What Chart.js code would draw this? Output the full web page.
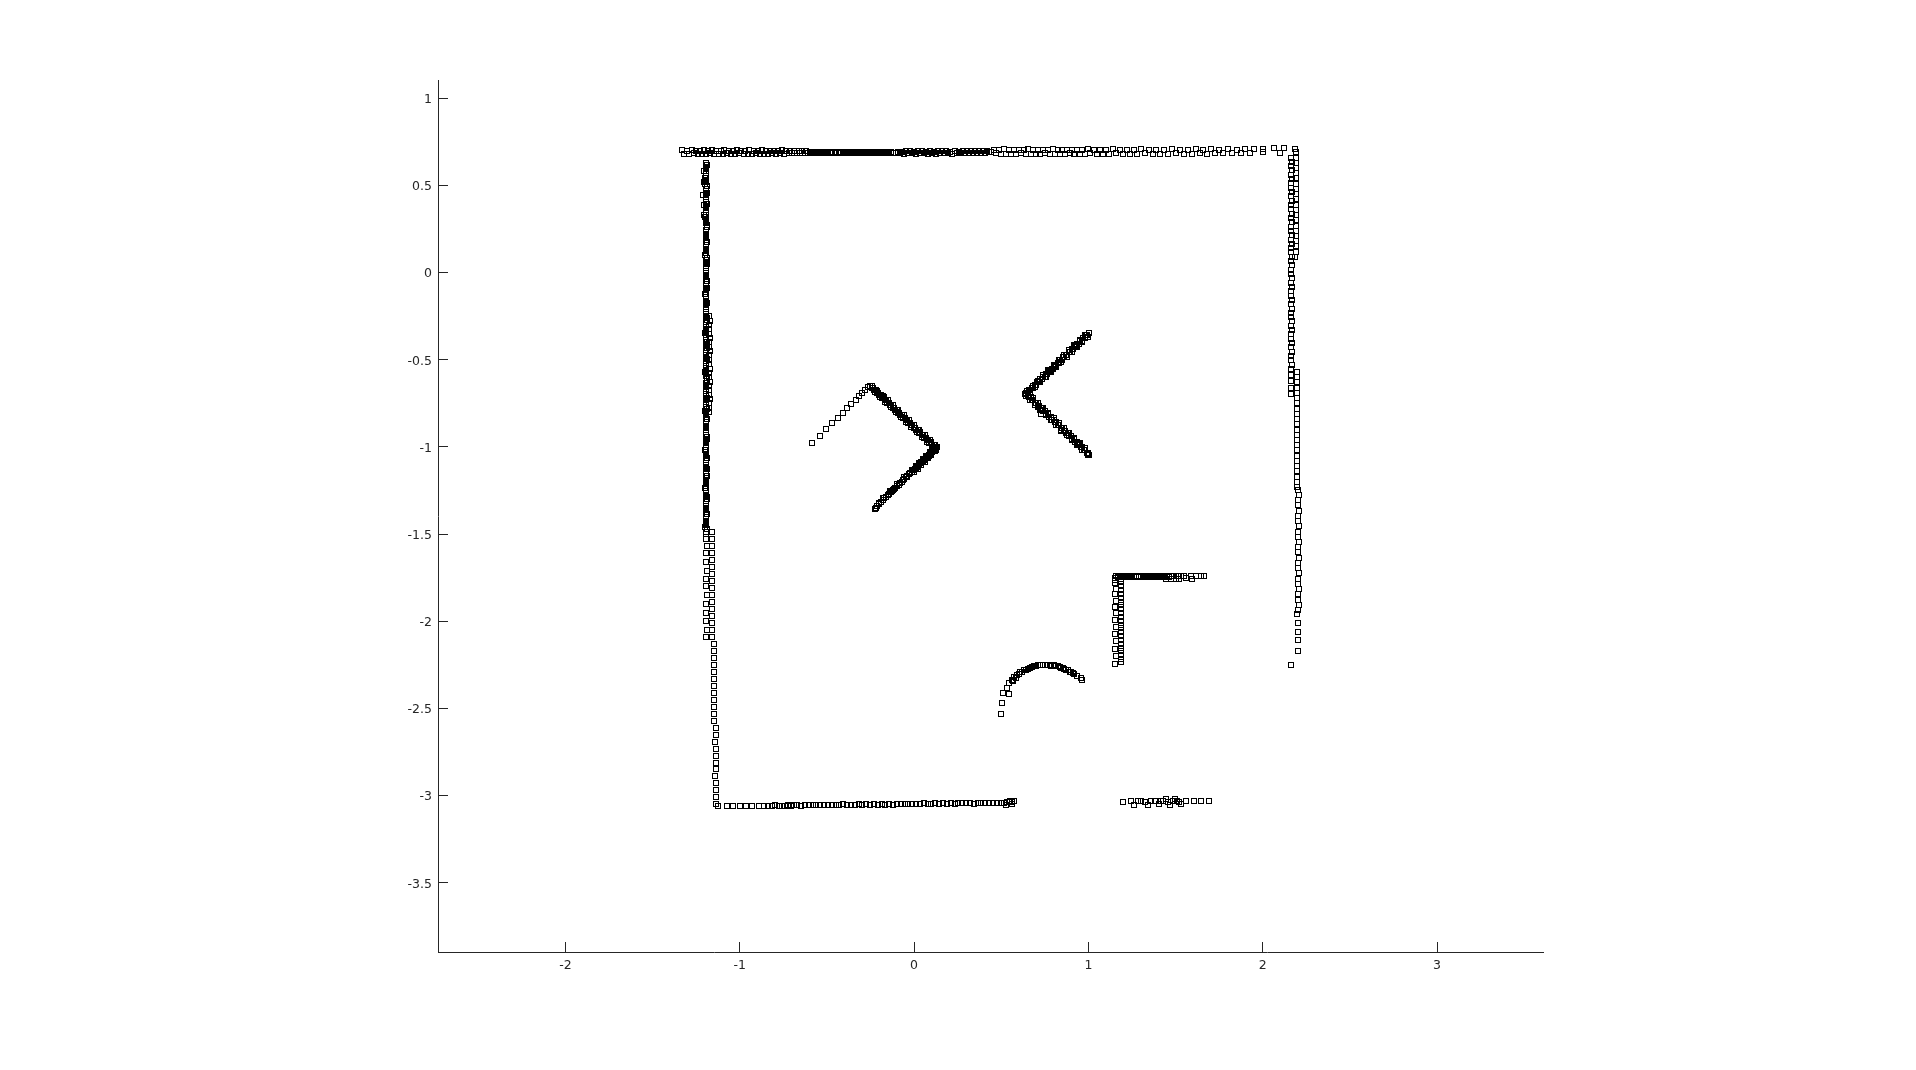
<!DOCTYPE html>
<html>
<head>
<meta charset="utf-8">
<script src="https://cdn.jsdelivr.net/npm/chart.js@4.4.1/dist/chart.umd.min.js"></script>
<style>
html,body{margin:0;padding:0;background:#fff;}
#wrap{width:1916px;height:1070px;}
</style>
</head>
<body>
<div id="wrap"><canvas id="c" width="1916" height="1070"></canvas></div>
<script>
// ---- tick labels ----
const xTicks = [-2, -1, 0, 1, 2, 3];
const yTicks = [1, 0.5, 0, -0.5, -1, -1.5, -2, -2.5, -3, -3.5];
const xRange = [-2.731, 3.608];
const yRange = [-3.897, 1.105];

// ---- scan points (x, y) ----
const topWallLeft = [
[-1.330,0.701],[-1.300,0.699],[-1.275,0.702],[-1.250,0.700],[-1.228,0.698],[-1.205,0.701],[-1.180,0.700],[-1.158,0.702],[-1.135,0.699],[-1.110,0.700],[-1.088,0.701],[-1.062,0.698],[-1.040,0.700],[-1.015,0.702],[-0.992,0.699],[-0.968,0.700],[-0.945,0.701],[-0.920,0.699],[-0.898,0.700],[-0.872,0.702],[-0.850,0.699],[-0.826,0.700],[-0.802,0.698],[-0.780,0.700],[-0.756,0.701],[-0.733,0.699],[-0.710,0.700],[-0.686,0.698],[-0.662,0.699],[-0.640,0.697],[-0.618,0.696],
[-1.318,0.682],[-1.290,0.680],[-1.262,0.684],[-1.240,0.679],[-1.215,0.683],[-1.192,0.681],[-1.168,0.685],[-1.145,0.680],[-1.120,0.683],[-1.096,0.681],[-1.072,0.684],[-1.050,0.679],[-1.025,0.682],[-1.002,0.685],[-0.978,0.681],[-0.955,0.683],[-0.932,0.680],[-0.908,0.684],[-0.885,0.682],[-0.860,0.683],[-0.838,0.681],[-0.814,0.684],[-0.790,0.682],[-0.768,0.685],[-0.744,0.683],[-0.720,0.684],[-0.698,0.686],[-0.674,0.685],[-0.652,0.687],[-0.628,0.688],[-0.606,0.689]
];
const topWallMid = [
[-0.596,0.690],[-0.584,0.686],[-0.573,0.692],[-0.561,0.688],[-0.550,0.684],[-0.538,0.691],[-0.526,0.687],[-0.515,0.693],[-0.503,0.689],[-0.491,0.685],[-0.480,0.690],[-0.468,0.688],[-0.456,0.692],[-0.445,0.686],[-0.433,0.689],[-0.421,0.691],[-0.410,0.687],[-0.398,0.690],[-0.386,0.685],[-0.375,0.689],[-0.363,0.692],[-0.351,0.688],[-0.340,0.690],[-0.328,0.686],[-0.316,0.689],[-0.305,0.691],[-0.293,0.687],[-0.281,0.690],[-0.270,0.688],[-0.258,0.692],[-0.246,0.689],[-0.235,0.686],[-0.223,0.690],[-0.211,0.688],[-0.200,0.691],[-0.188,0.687],[-0.176,0.690],[-0.165,0.689],[-0.153,0.692],[-0.141,0.688],[-0.130,0.690],[-0.118,0.686],[-0.106,0.689],[-0.095,0.691],[-0.083,0.684],[-0.071,0.694],[-0.060,0.683],[-0.048,0.695],[-0.036,0.686],[-0.025,0.696],[-0.013,0.684],[-0.001,0.693],[0.010,0.682],[0.022,0.695],[0.034,0.686],[0.045,0.697],[0.057,0.684],[0.069,0.693],[0.080,0.682],[0.092,0.696],[0.104,0.686],[0.115,0.694],[0.127,0.683],[0.139,0.696],[0.150,0.685],[0.162,0.695],[0.174,0.684],[0.185,0.697],[0.197,0.686],[0.209,0.694],[0.220,0.683],[0.232,0.696],[0.244,0.686],[0.255,0.694],[0.267,0.684],[0.279,0.697],[0.290,0.687],[0.302,0.695],[0.314,0.685],[0.325,0.697],[0.337,0.688],[0.349,0.695],[0.360,0.686],[0.372,0.697],[0.384,0.688],[0.395,0.696],[0.407,0.687],[0.419,0.698],[0.430,0.690],[0.442,0.693]
];
const topWallRight = [
[0.460,0.706],[0.490,0.704],[0.515,0.707],[0.545,0.705],[0.575,0.703],[0.600,0.706],[0.630,0.704],[0.655,0.707],[0.685,0.705],[0.712,0.703],[0.740,0.706],[0.768,0.704],[0.795,0.707],[0.825,0.705],[0.850,0.703],[0.880,0.706],[0.908,0.704],[0.935,0.706],[0.965,0.705],[0.995,0.707],[1.030,0.704],[1.065,0.706],[1.100,0.705],[1.140,0.707],[1.180,0.704],[1.220,0.706],[1.260,0.705],[1.300,0.707],[1.345,0.705],[1.390,0.706],[1.435,0.704],[1.480,0.707],[1.525,0.705],[1.570,0.706],[1.615,0.708],[1.660,0.705],[1.705,0.707],[1.750,0.706],[1.800,0.708],[1.850,0.706],[1.900,0.709],[1.950,0.707],[2.000,0.712],[2.065,0.713],[2.120,0.713],[2.185,0.712],
[0.470,0.684],[0.500,0.681],[0.528,0.683],[0.556,0.680],[0.586,0.682],[0.612,0.684],[0.642,0.681],[0.670,0.683],[0.698,0.680],[0.725,0.682],[0.752,0.684],[0.780,0.681],[0.808,0.683],[0.838,0.680],[0.865,0.682],[0.892,0.684],[0.920,0.681],[0.950,0.683],[0.980,0.682],[1.012,0.684],[1.048,0.681],[1.082,0.683],[1.120,0.682],[1.160,0.684],[1.200,0.681],[1.240,0.683],[1.280,0.682],[1.322,0.684],[1.368,0.682],[1.412,0.683],[1.458,0.681],[1.502,0.684],[1.548,0.682],[1.592,0.683],[1.638,0.685],[1.682,0.683],[1.728,0.684],[1.775,0.686],[1.825,0.684],[1.875,0.686],[1.925,0.685],[2.000,0.690],[2.100,0.688]
];
const leftWallUpper = [
[-1.193,0.630],[-1.196,0.606],[-1.191,0.581],[-1.195,0.556],[-1.192,0.531],[-1.197,0.507],[-1.193,0.482],[-1.190,0.457],[-1.195,0.432],[-1.192,0.408],[-1.196,0.383],[-1.191,0.358],[-1.194,0.333],[-1.192,0.309],[-1.195,0.284],[-1.190,0.259],[-1.193,0.234],[-1.196,0.210],[-1.191,0.185],[-1.194,0.160],[-1.192,0.135],[-1.195,0.111],[-1.190,0.086],[-1.193,0.061],[-1.196,0.036],[-1.191,0.012],[-1.194,-0.013],[-1.192,-0.038],[-1.195,-0.063],[-1.190,-0.087],[-1.193,-0.112],[-1.196,-0.137],[-1.191,-0.162],[-1.194,-0.186],[-1.192,-0.211],[-1.195,-0.236],[-1.190,-0.261],[-1.193,-0.285],[-1.196,-0.310],[-1.191,-0.335],[-1.194,-0.360],[-1.192,-0.384],[-1.195,-0.409],[-1.190,-0.434],[-1.193,-0.459],[-1.196,-0.483],[-1.191,-0.508],[-1.194,-0.533],[-1.192,-0.558],[-1.195,-0.582],[-1.190,-0.607],[-1.193,-0.632],[-1.196,-0.657],[-1.191,-0.681],[-1.194,-0.706],[-1.192,-0.731],[-1.195,-0.756],[-1.190,-0.780],[-1.193,-0.805],[-1.196,-0.830],[-1.191,-0.855],[-1.194,-0.879],[-1.192,-0.904],[-1.195,-0.929],[-1.190,-0.954],[-1.193,-0.978],[-1.196,-1.003],[-1.191,-1.028],[-1.194,-1.053],[-1.192,-1.077],[-1.195,-1.102],[-1.190,-1.127],[-1.193,-1.152],[-1.196,-1.176],[-1.191,-1.201],[-1.194,-1.226],[-1.192,-1.251],[-1.195,-1.275],[-1.190,-1.300],[-1.193,-1.325],[-1.196,-1.350],[-1.191,-1.374],[-1.194,-1.399],[-1.192,-1.424],[-1.195,-1.449],[-1.190,-1.473],[-1.193,-1.498],
[-1.207,0.585],[-1.205,0.520],[-1.208,0.445],[-1.204,0.390],[-1.206,0.330],
[-1.176,-0.250],[-1.173,-0.275],[-1.177,-0.300],[-1.174,-0.325],[-1.176,-0.350],[-1.172,-0.375],[-1.175,-0.400],[-1.177,-0.425],[-1.173,-0.450],[-1.176,-0.475],[-1.174,-0.500],[-1.177,-0.525],[-1.172,-0.550],[-1.175,-0.575],[-1.177,-0.600],[-1.173,-0.625],[-1.176,-0.650],[-1.174,-0.675],[-1.177,-0.700],[-1.172,-0.725],[-1.175,-0.750],[-1.177,-0.775],[-1.174,-0.800]
];
const leftWallInfill = [
[-1.189,0.618],[-1.194,0.594],[-1.191,0.569],[-1.197,0.544],[-1.192,0.519],[-1.189,0.495],[-1.195,0.470],[-1.192,0.445],[-1.196,0.420],[-1.190,0.396],[-1.194,0.371],[-1.191,0.346],[-1.197,0.321],[-1.193,0.297],[-1.189,0.272],[-1.195,0.247],[-1.192,0.222],[-1.196,0.198],[-1.190,0.173],[-1.194,0.148],[-1.191,0.123],[-1.197,0.099],[-1.193,0.074],[-1.189,0.049],[-1.195,0.024],[-1.192,0.000],[-1.196,-0.025],[-1.190,-0.050],[-1.194,-0.075],[-1.191,-0.100],[-1.197,-0.124],[-1.193,-0.149],[-1.189,-0.174],[-1.195,-0.199],[-1.192,-0.223],[-1.196,-0.248],[-1.190,-0.273],[-1.194,-0.298],[-1.191,-0.322],[-1.197,-0.347],[-1.193,-0.372],[-1.189,-0.397],[-1.195,-0.421],[-1.192,-0.446],[-1.196,-0.471],[-1.190,-0.496],[-1.194,-0.520],[-1.191,-0.545],[-1.197,-0.570],[-1.193,-0.595],[-1.189,-0.619],[-1.195,-0.644],[-1.192,-0.669],[-1.196,-0.694],[-1.190,-0.718],[-1.194,-0.743],[-1.191,-0.768],[-1.197,-0.793],[-1.193,-0.817],[-1.189,-0.842],[-1.195,-0.867],[-1.192,-0.892],[-1.196,-0.916],[-1.190,-0.941],[-1.194,-0.966],[-1.191,-0.991],[-1.197,-1.015],[-1.193,-1.040],[-1.189,-1.065],[-1.195,-1.090],[-1.192,-1.114],[-1.196,-1.139],[-1.190,-1.164],[-1.194,-1.189],[-1.191,-1.213],[-1.197,-1.238],[-1.193,-1.263],[-1.189,-1.288],[-1.195,-1.312],[-1.192,-1.337],[-1.196,-1.362],[-1.190,-1.387],[-1.194,-1.411],[-1.191,-1.436],[-1.197,-1.461],[-1.193,-1.486]
];
const leftWallLower = [
[-1.196,-1.530],[-1.190,-1.570],[-1.193,-1.610],[-1.195,-1.660],[-1.188,-1.710],[-1.192,-1.760],[-1.196,-1.800],[-1.190,-1.850],[-1.194,-1.900],[-1.192,-1.950],[-1.196,-2.000],[-1.190,-2.050],[-1.193,-2.090],
[-1.161,-1.490],[-1.158,-1.530],[-1.162,-1.570],[-1.159,-1.610],[-1.161,-1.650],[-1.158,-1.690],[-1.160,-1.730],[-1.162,-1.770],[-1.159,-1.810],[-1.161,-1.850],[-1.158,-1.890],[-1.160,-1.930],[-1.162,-1.970],[-1.159,-2.010],[-1.161,-2.050],[-1.158,-2.090],[-1.148,-2.130],[-1.150,-2.170],[-1.147,-2.210],[-1.149,-2.250],[-1.146,-2.290],[-1.148,-2.330],[-1.150,-2.370],[-1.147,-2.410],[-1.149,-2.450],[-1.146,-2.490],[-1.148,-2.530],[-1.150,-2.570],[-1.139,-2.610],[-1.137,-2.650],[-1.140,-2.690],[-1.138,-2.730],[-1.136,-2.770],[-1.139,-2.810],[-1.137,-2.850],[-1.140,-2.890],[-1.138,-2.930],[-1.136,-2.970],[-1.139,-3.010],[-1.135,-3.050]
];
const bottomWall = [
[-1.122,-3.062],[-1.075,-3.060],[-1.038,-3.061],[-0.998,-3.060],[-0.962,-3.059],[-0.928,-3.060],[-0.892,-3.058],[-0.862,-3.060],[-0.838,-3.057],[-0.815,-3.059],[-0.795,-3.056],[-0.776,-3.060],[-0.758,-3.057],[-0.740,-3.059],[-0.722,-3.056],[-0.705,-3.058],[-0.688,-3.055],
[-0.670,-3.055],[-0.648,-3.057],[-0.626,-3.053],[-0.604,-3.056],[-0.582,-3.052],[-0.560,-3.055],[-0.538,-3.051],[-0.516,-3.054],[-0.494,-3.052],[-0.472,-3.055],[-0.450,-3.051],[-0.428,-3.053],[-0.406,-3.050],[-0.384,-3.053],[-0.362,-3.051],[-0.340,-3.054],[-0.318,-3.050],[-0.296,-3.052],[-0.274,-3.049],[-0.252,-3.052],[-0.230,-3.050],[-0.208,-3.053],[-0.186,-3.049],[-0.164,-3.051],[-0.142,-3.048],[-0.120,-3.051],[-0.098,-3.049],[-0.076,-3.046],[-0.054,-3.049],[-0.032,-3.047],[-0.010,-3.050],[0.012,-3.046],[0.034,-3.048],[0.056,-3.045],[0.078,-3.048],[0.100,-3.046],[0.122,-3.044],[0.144,-3.047],[0.166,-3.044],[0.188,-3.046],[0.210,-3.043],[0.232,-3.046],[0.254,-3.044],[0.276,-3.042],[0.298,-3.045],[0.320,-3.043],[0.342,-3.046],[0.364,-3.042],[0.386,-3.044],[0.408,-3.041],[0.430,-3.044],[0.452,-3.042],[0.474,-3.045],[0.496,-3.041],[0.518,-3.040],[0.536,-3.037],[0.548,-3.033],[0.562,-3.036],[0.574,-3.032],[0.528,-3.052],[0.560,-3.050]
];
const bottomRight = [
[1.201,-3.036],[1.245,-3.033],[1.264,-3.052],[1.283,-3.033],[1.303,-3.031],[1.322,-3.034],[1.341,-3.052],[1.360,-3.033],[1.385,-3.031],[1.404,-3.050],[1.427,-3.033],[1.446,-3.020],[1.469,-3.051],[1.488,-3.033],[1.507,-3.031],[1.532,-3.050],[1.561,-3.033],[1.608,-3.033],[1.647,-3.033],[1.694,-3.032],[1.415,-3.030],[1.455,-3.034],[1.495,-3.021],[1.520,-3.034]
];
const rightWallUpper = [
[2.165,0.660],[2.167,0.636],[2.163,0.611],[2.166,0.586],[2.164,0.561],[2.167,0.537],[2.163,0.512],[2.165,0.487],[2.168,0.462],[2.164,0.438],[2.166,0.413],[2.163,0.388],[2.165,0.363],[2.167,0.339],[2.164,0.314],[2.166,0.289],[2.163,0.264],[2.165,0.240],[2.167,0.215],[2.164,0.190],[2.166,0.165],[2.163,0.141],[2.165,0.116],[2.167,0.091],[2.164,0.066],[2.166,0.042],[2.163,0.017],[2.165,-0.008],[2.167,-0.033],[2.164,-0.057],[2.166,-0.082],[2.163,-0.107],[2.165,-0.132],[2.167,-0.156],[2.164,-0.181],[2.166,-0.206],[2.163,-0.231],[2.165,-0.255],[2.167,-0.280],[2.164,-0.305],[2.166,-0.330],[2.163,-0.354],[2.165,-0.379],[2.167,-0.404],[2.164,-0.429],[2.166,-0.453],[2.163,-0.478],[2.165,-0.503],[2.167,-0.528],[2.164,-0.552],
[2.162,-0.585],[2.160,-0.620],[2.161,-0.660],[2.160,-0.695],
[2.190,0.690],[2.192,0.660],[2.189,0.630],[2.191,0.600],[2.193,0.570],[2.190,0.540],[2.192,0.510],[2.189,0.480],[2.191,0.450],[2.193,0.420],[2.190,0.390],[2.192,0.360],[2.189,0.330],[2.191,0.300],[2.193,0.270],[2.190,0.240],[2.192,0.210],[2.189,0.180],[2.191,0.150],[2.190,0.120],[2.188,0.090]
];
const rightWallLower = [
[2.197,-0.570],[2.196,-0.600],[2.198,-0.630],[2.197,-0.660],[2.196,-0.690],[2.198,-0.720],[2.197,-0.750],[2.196,-0.780],[2.198,-0.810],[2.197,-0.840],[2.196,-0.870],[2.198,-0.900],[2.197,-0.930],[2.196,-0.960],[2.198,-0.990],[2.197,-1.020],[2.196,-1.050],[2.198,-1.080],[2.197,-1.110],[2.196,-1.140],[2.198,-1.170],[2.197,-1.200],[2.196,-1.230],
[2.205,-1.245],[2.206,-1.275],[2.204,-1.305],[2.205,-1.335],[2.206,-1.365],[2.204,-1.395],[2.205,-1.425],[2.206,-1.455],[2.204,-1.485],[2.205,-1.515],[2.206,-1.545],[2.204,-1.575],[2.205,-1.605],[2.206,-1.635],[2.204,-1.665],[2.205,-1.695],[2.206,-1.725],[2.204,-1.755],[2.205,-1.785],[2.206,-1.815],[2.204,-1.845],[2.205,-1.875],[2.206,-1.905],[2.204,-1.935],
[2.195,-1.960],[2.203,-2.010],[2.204,-2.060],[2.203,-2.110],[2.204,-2.170],[2.163,-2.250]
];
const leftObjectUpper = [
[-0.586,-0.978],[-0.540,-0.938],[-0.506,-0.898],[-0.471,-0.862],[-0.437,-0.835],[-0.408,-0.806],[-0.383,-0.778],[-0.362,-0.753],[-0.335,-0.730],[-0.314,-0.709],[-0.299,-0.692],[-0.282,-0.674],[-0.265,-0.657],
[-0.251,-0.650],[-0.244,-0.662],[-0.236,-0.660],[-0.229,-0.675],[-0.220,-0.676],[-0.214,-0.690],[-0.205,-0.688],[-0.199,-0.704],[-0.190,-0.702],[-0.184,-0.718],[-0.175,-0.716],[-0.169,-0.733],[-0.160,-0.731],[-0.154,-0.746],[-0.145,-0.745],[-0.139,-0.761],[-0.130,-0.759],[-0.123,-0.774],[-0.115,-0.775],[-0.108,-0.790],[-0.100,-0.789],[-0.093,-0.803],[-0.085,-0.804],[-0.078,-0.818],[-0.070,-0.817],[-0.063,-0.832],[-0.054,-0.833],[-0.048,-0.846],[-0.039,-0.847],[-0.033,-0.861],[-0.024,-0.860],[-0.018,-0.875],[-0.009,-0.874],[-0.003,-0.890],[0.006,-0.889],[0.013,-0.903],[0.021,-0.904],[0.028,-0.918],[0.036,-0.917],[0.043,-0.932],[0.051,-0.933],[0.058,-0.946],[0.066,-0.947],[0.073,-0.961],[0.082,-0.960],[0.088,-0.975],[0.097,-0.974],[0.103,-0.989],[0.112,-0.988],[0.118,-1.002],[0.127,-1.007],
[-0.240,-0.648],[-0.225,-0.687],[-0.210,-0.677],[-0.195,-0.715],[-0.180,-0.705],[-0.165,-0.743],[-0.150,-0.733],[-0.135,-0.772],[-0.120,-0.762],[-0.105,-0.800],[-0.090,-0.790],[-0.075,-0.828],[-0.060,-0.818],[-0.045,-0.857],[-0.030,-0.847],[-0.015,-0.885],[0.000,-0.875],[0.015,-0.913],[0.030,-0.903],[0.045,-0.942],[0.060,-0.932],[0.075,-0.970],[0.090,-0.960],[0.105,-0.998],[0.120,-0.988],[0.132,-1.000],[0.128,-1.018]
];
const leftObjectLower = [
[0.124,-1.012],[0.118,-1.014],[0.113,-1.023],[0.109,-1.022],[0.103,-1.031],[0.098,-1.033],[0.094,-1.040],[0.088,-1.044],[0.083,-1.049],[0.078,-1.055],[0.073,-1.059],[0.068,-1.064],[0.062,-1.068],[0.058,-1.075],[0.052,-1.078],[0.047,-1.085],[0.041,-1.089],[0.037,-1.094],[0.031,-1.100],[0.026,-1.104],[0.020,-1.110],[0.015,-1.114],[0.009,-1.121],[0.004,-1.124],[-0.002,-1.131],[-0.008,-1.135],[-0.014,-1.142],[-0.022,-1.150],[-0.030,-1.157],[-0.038,-1.165],[-0.047,-1.174],[-0.055,-1.182],[-0.064,-1.190],[-0.072,-1.199],[-0.081,-1.208],[-0.089,-1.216],[-0.098,-1.225],[-0.107,-1.233],[-0.115,-1.242],[-0.124,-1.250],[-0.133,-1.259],[-0.142,-1.268],[-0.151,-1.277],[-0.160,-1.286],[-0.170,-1.295],[-0.180,-1.304],[-0.190,-1.314],[-0.201,-1.324],[-0.212,-1.336],[-0.221,-1.348],[-0.226,-1.355],
[0.120,-1.026],[0.110,-1.012],[0.100,-1.046],[0.090,-1.031],[0.080,-1.065],[0.070,-1.051],[0.060,-1.085],[0.050,-1.071],[0.040,-1.105],[0.030,-1.091],[0.020,-1.125],[0.010,-1.110],[0.000,-1.144],[-0.010,-1.130],
[-0.040,-1.170],[-0.060,-1.174],[-0.080,-1.209],[-0.100,-1.213],[-0.120,-1.249],[-0.140,-1.253],[-0.160,-1.288],[-0.180,-1.292],[-0.200,-1.328]
];
const rightObjectUpper = [
[0.643,-0.696],[0.651,-0.692],[0.659,-0.676],[0.667,-0.675],[0.676,-0.660],[0.684,-0.660],[0.692,-0.645],[0.700,-0.645],[0.708,-0.629],[0.716,-0.629],[0.725,-0.613],[0.733,-0.613],[0.741,-0.597],[0.749,-0.597],[0.757,-0.581],[0.765,-0.581],[0.774,-0.565],[0.782,-0.565],[0.790,-0.550],[0.798,-0.550],[0.806,-0.534],[0.814,-0.534],[0.823,-0.518],[0.831,-0.518],[0.839,-0.502],[0.847,-0.502],[0.855,-0.486],[0.863,-0.486],[0.872,-0.470],[0.880,-0.471],[0.888,-0.455],[0.896,-0.455],[0.904,-0.439],[0.912,-0.439],[0.921,-0.423],[0.929,-0.423],[0.937,-0.407],[0.945,-0.407],[0.953,-0.391],[0.961,-0.391],[0.970,-0.376],[0.978,-0.376],[0.986,-0.360],[0.994,-0.360],[1.002,-0.348],
[0.650,-0.677],[0.665,-0.687],[0.680,-0.648],[0.695,-0.658],[0.710,-0.619],[0.725,-0.629],[0.740,-0.590],[0.755,-0.599],[0.770,-0.561],[0.785,-0.570],[0.800,-0.532],[0.815,-0.541],[0.830,-0.503],[0.845,-0.512],[0.860,-0.474],[0.875,-0.483],[0.890,-0.445],[0.905,-0.454],[0.920,-0.416],[0.935,-0.425],[0.950,-0.387],[0.965,-0.396],[0.980,-0.358],[0.995,-0.367],
[0.636,-0.696],[0.640,-0.705],[0.640,-0.688]
];
const rightObjectLower = [
[0.651,-0.700],[0.660,-0.716],[0.668,-0.716],[0.676,-0.732],[0.684,-0.732],[0.693,-0.748],[0.701,-0.747],[0.709,-0.763],[0.717,-0.763],[0.726,-0.779],[0.734,-0.779],[0.742,-0.795],[0.750,-0.795],[0.759,-0.811],[0.767,-0.811],[0.775,-0.827],[0.783,-0.827],[0.792,-0.843],[0.800,-0.843],[0.808,-0.859],[0.816,-0.859],[0.825,-0.874],[0.833,-0.874],[0.841,-0.890],[0.849,-0.890],[0.858,-0.906],[0.866,-0.906],[0.874,-0.922],[0.882,-0.922],[0.891,-0.938],[0.899,-0.938],[0.907,-0.954],[0.915,-0.954],[0.924,-0.970],[0.932,-0.970],[0.940,-0.986],[0.948,-0.985],[0.957,-1.001],[0.965,-1.001],[0.973,-1.017],[0.981,-1.017],[0.990,-1.033],[0.998,-1.037],[1.006,-1.045],[1.000,-1.040],
[0.710,-0.772],[0.729,-0.812],[0.844,-0.911],
[0.665,-0.729],[0.680,-0.720],[0.695,-0.758],[0.710,-0.748],[0.725,-0.787],[0.740,-0.777],[0.755,-0.816],[0.770,-0.806],[0.785,-0.844],[0.800,-0.835],[0.815,-0.873],[0.830,-0.864],[0.845,-0.902],[0.860,-0.893],[0.875,-0.931],[0.890,-0.921],[0.905,-0.960],[0.920,-0.950],[0.935,-0.989],[0.950,-0.979],[0.965,-1.017],[0.980,-1.008],[0.995,-1.046]
];
const arcObject = [
[0.496,-2.532],[0.504,-2.469],[0.513,-2.412],[0.544,-2.416],[0.534,-2.381],[0.544,-2.355],[0.561,-2.335],[0.568,-2.345],[0.576,-2.320],[0.585,-2.328],[0.592,-2.307],[0.600,-2.300],[0.609,-2.293],[0.618,-2.290],[0.630,-2.282],[0.640,-2.278],[0.653,-2.272],[0.665,-2.266],[0.678,-2.263],[0.688,-2.258],[0.700,-2.255],[0.712,-2.252],[0.725,-2.251],[0.738,-2.253],[0.752,-2.251],[0.765,-2.252],[0.777,-2.251],[0.788,-2.255],[0.800,-2.253],[0.812,-2.257],[0.825,-2.259],[0.835,-2.265],[0.844,-2.267],[0.853,-2.270],[0.863,-2.274],[0.872,-2.279],[0.882,-2.282],[0.892,-2.288],[0.901,-2.291],[0.910,-2.297],[0.920,-2.301],[0.936,-2.312],[0.958,-2.328],[0.962,-2.339]
];
const cornerObject = [
[1.159,-1.743],[1.170,-1.745],[1.182,-1.742],[1.194,-1.744],[1.205,-1.742],[1.217,-1.745],[1.229,-1.743],[1.241,-1.744],[1.252,-1.742],[1.264,-1.745],[1.276,-1.743],[1.288,-1.744],[1.300,-1.742],[1.311,-1.745],[1.323,-1.743],[1.335,-1.744],[1.347,-1.742],[1.358,-1.745],[1.370,-1.743],[1.382,-1.744],[1.394,-1.742],[1.405,-1.745],[1.417,-1.743],[1.429,-1.742],[1.441,-1.744],[1.453,-1.742],[1.465,-1.744],[1.477,-1.741],[1.490,-1.743],[1.502,-1.741],[1.515,-1.742],[1.530,-1.741],[1.551,-1.741],[1.589,-1.740],[1.618,-1.741],[1.647,-1.740],[1.666,-1.740],
[1.444,-1.757],[1.472,-1.756],[1.500,-1.757],[1.520,-1.756],[1.560,-1.750],[1.595,-1.755],
[1.155,-1.752],[1.150,-1.765],[1.150,-1.783],[1.160,-1.816],[1.150,-1.846],[1.158,-1.884],[1.150,-1.918],[1.158,-1.953],[1.150,-1.993],[1.158,-2.032],[1.150,-2.072],[1.158,-2.112],[1.150,-2.159],[1.158,-2.198],[1.150,-2.244],
[1.188,-1.755],[1.186,-1.777],[1.189,-1.799],[1.187,-1.821],[1.190,-1.843],[1.188,-1.865],[1.186,-1.887],[1.189,-1.909],[1.187,-1.931],[1.190,-1.953],[1.188,-1.975],[1.186,-1.997],[1.189,-2.019],[1.187,-2.041],[1.190,-2.063],[1.188,-2.085],[1.186,-2.107],[1.189,-2.129],[1.187,-2.151],[1.190,-2.173],[1.188,-2.195],[1.186,-2.217],[1.188,-2.236]
];

const seriesList = [topWallLeft, topWallMid, topWallRight, leftWallUpper, leftWallInfill, leftWallLower, bottomWall, bottomRight,
  rightWallUpper, rightWallLower, leftObjectUpper, leftObjectLower, rightObjectUpper, rightObjectLower, arcObject, cornerObject];

const AXIS_COLOR = '#262626';

// crisp square marker (open black square), drawn as an image point style
const marker = document.createElement('canvas');
marker.width = 6; marker.height = 6;
(function () {
  const m = marker.getContext('2d');
  m.strokeStyle = '#000';
  m.lineWidth = 1;
  m.strokeRect(0.5, 0.5, 5, 5);
})();

const datasets = seriesList.map(pts => ({
  data: pts.map(p => ({x: p[0], y: p[1]})),
  pointStyle: marker,
  pointRadius: 3,
  pointBorderWidth: 1,
  pointBorderColor: '#000',
  pointBackgroundColor: 'rgba(0,0,0,0)',
  showLine: false
}));

const crispPlugin = {
  id: 'crisp',
  beforeDatasetsDraw(chart) { chart.ctx.imageSmoothingEnabled = false; },
  afterDatasetsDraw(chart) { chart.ctx.imageSmoothingEnabled = true; }
};

const tickFont = {family: 'DejaVu Sans', size: 12.5};

new Chart(document.getElementById('c'), {
  type: 'scatter',
  data: {datasets},
  plugins: [crispPlugin],
  options: {
    responsive: false,
    devicePixelRatio: 1,
    animation: false,
    events: [],
    layout: {padding: {left: 0, top: 80, right: 373, bottom: 0}},
    plugins: {legend: {display: false}, tooltip: {enabled: false}},
    scales: {
      x: {
        type: 'linear', position: 'bottom',
        min: xRange[0], max: xRange[1],
        afterBuildTicks: s => { s.ticks = xTicks.map(v => ({value: v})); },
        afterFit: s => { s.height = 118; },
        border: {display: true, color: AXIS_COLOR, width: 1},
        grid: {drawOnChartArea: false, drawTicks: true, tickLength: -10, tickColor: AXIS_COLOR, tickWidth: 1},
        ticks: {color: AXIS_COLOR, font: tickFont, padding: 16, maxRotation: 0, autoSkip: false, includeBounds: false,
          callback: v => String(v)}
      },
      y: {
        type: 'linear', position: 'left',
        min: yRange[0], max: yRange[1],
        afterBuildTicks: s => { s.ticks = yTicks.map(v => ({value: v})); },
        afterFit: s => { s.width = 438; },
        border: {display: true, color: AXIS_COLOR, width: 1},
        grid: {drawOnChartArea: false, drawTicks: true, tickLength: -10, tickColor: AXIS_COLOR, tickWidth: 1},
        ticks: {color: AXIS_COLOR, font: tickFont, padding: 16, labelOffset: 1.5, autoSkip: false, includeBounds: false,
          callback: v => String(v)}
      }
    }
  }
});
</script>
</body>
</html>
